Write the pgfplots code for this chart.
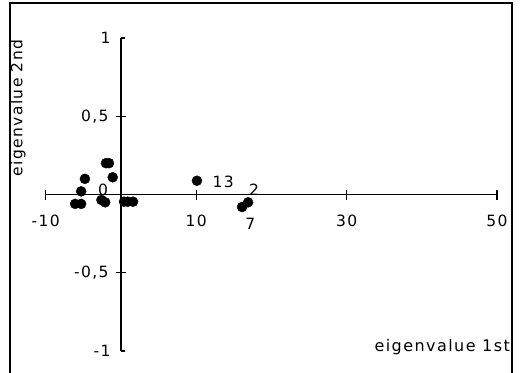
\documentclass[border=0pt]{standalone}
\usepackage{pgfplots}
\pgfplotsset{compat=1.18}
\usepackage{fontspec}
\setmainfont{DejaVu Sans}
\newfontfamily\lblfont{DejaVu Sans}[LetterSpace=9]
\begin{document}
\begin{tikzpicture}
\useasboundingbox (-121pt,-177.5pt) rectangle (400pt,194.5pt);
\begin{axis}[
  anchor=origin, at={(0pt,0pt)},
  x=7.52pt, y=156.5pt,
  xmin=-10, xmax=50, ymin=-1, ymax=1,
  axis lines=middle,
  axis line style={-, line width=1.1pt},
  clip=false,
  /pgf/number format/assume math mode=true,
  xtick={-10,10,30,50},
  xticklabels={{-10},{10},{30},{50}},
  ytick={-0.5,0.5},
  yticklabels={{-0,5},{0,5}},
  extra y ticks={-1,1},
  extra y tick labels={{-1},{1}},
  extra y tick style={tick align=inside, major tick length=4pt, yticklabel style={xshift=-3pt}},
  major tick length=10pt,
  tick align=center,
  tick style={line width=1.1pt, black},
  ticklabel style={font=\lblfont\fontsize{15.5}{18}\selectfont},
  xticklabel style={yshift=-12pt},
  yticklabel style={xshift=-4pt},
]
\addplot[only marks, mark=*, mark size=5pt, mark options={fill=black, draw=black}] table {
x y
-4.8 0.10
-5.3 0.02
-6.1 -0.06
-5.3 -0.06
-2.0 0.20
-1.6 0.20
-1.1 0.11
-2.6 -0.035
-2.1 -0.05
0.4 -0.046
0.9 -0.046
1.6 -0.046
10.1 0.088
16.1 -0.08
16.9 -0.05
};
\node[font=\lblfont\fontsize{15.5}{18}\selectfont] at (axis cs:13.6,0.082) {13};
\node[font=\lblfont\fontsize{15.5}{18}\selectfont] at (axis cs:17.7,0.03) {2};
\node[font=\lblfont\fontsize{15.5}{18}\selectfont] at (axis cs:17.2,-0.19) {7};
\node[font=\lblfont\fontsize{15.5}{18}\selectfont] at (axis cs:-2.4,0.03) {0};
\end{axis}
\draw[line width=1.1pt] (-111pt,-190pt) -- (-111pt,191.5pt) -- (391pt,191.5pt) -- (391pt,-190pt);
\node[rotate=90, font=\lblfont\fontsize{15.5}{18}\selectfont] at (-103pt,86.5pt) {eigenvalue 2nd};
\node[anchor=east, font=\lblfont\fontsize{16}{18}\selectfont, inner sep=0pt] at (389pt,-152.5pt) {eigenvalue 1st};
\end{tikzpicture}
\end{document}
